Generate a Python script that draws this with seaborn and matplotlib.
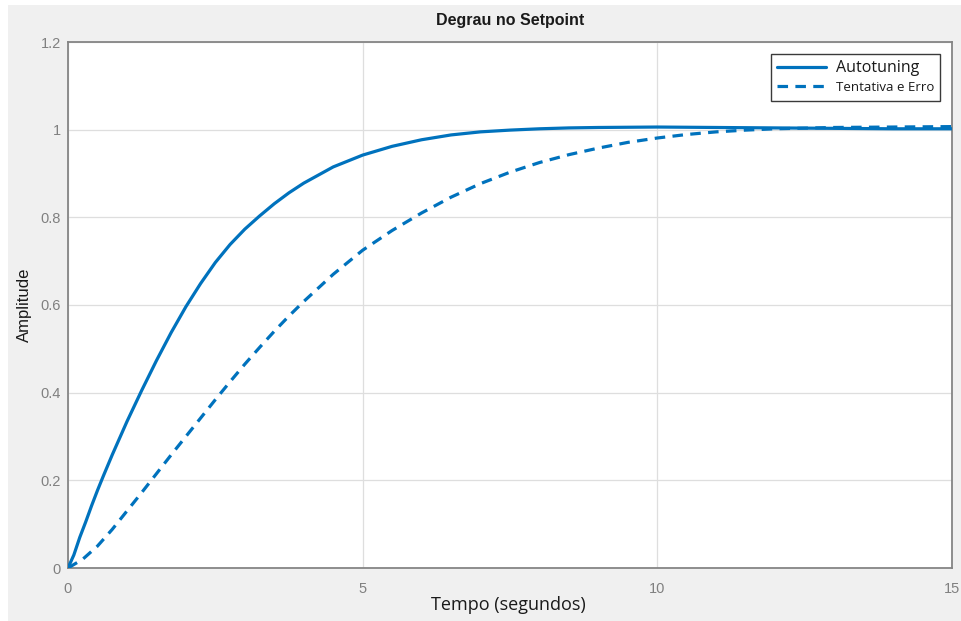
import numpy as np
import pandas as pd
import seaborn as sns
import matplotlib.pyplot as plt
from matplotlib.patches import Rectangle
from matplotlib.lines import Line2D

# Step response samples (time in seconds, amplitude)
t_auto = [0, 0.1, 0.2, 0.3, 0.4, 0.5, 0.6, 0.75, 1.0, 1.25, 1.5, 1.75, 2.0, 2.25,
          2.5, 2.75, 3.0, 3.25, 3.5, 3.75, 4.0, 4.5, 5.0, 5.5, 6.0, 6.5, 7.0, 7.5,
          8.0, 8.5, 9.0, 10.0, 11.0, 12.0, 13.0, 14.0, 15.0]
y_auto = [0, 0.03, 0.07, 0.105, 0.142, 0.177, 0.21, 0.258, 0.334, 0.405, 0.473,
          0.537, 0.596, 0.649, 0.697, 0.738, 0.773, 0.803, 0.831, 0.856, 0.878, 0.915,
          0.942, 0.962, 0.977, 0.988, 0.995, 0.999, 1.002, 1.004, 1.005, 1.006,
          1.005, 1.004, 1.003, 1.002, 1.002]

t_te = [0, 0.25, 0.5, 0.75, 1.0, 1.25, 1.5, 1.75, 2.0, 2.25, 2.5, 2.75, 3.0, 3.25,
        3.5, 3.75, 4.0, 4.5, 5.0, 5.5, 6.0, 6.5, 7.0, 7.5, 8.0, 8.5, 9.0, 9.5,
        10.0, 10.5, 11.0, 11.5, 12.0, 13.0, 14.0, 15.0]
y_te = [0, 0.02, 0.05, 0.088, 0.13, 0.172, 0.215, 0.258, 0.3, 0.342, 0.384, 0.425,
        0.465, 0.503, 0.54, 0.575, 0.608, 0.67, 0.725, 0.77, 0.81, 0.846, 0.877,
        0.903, 0.925, 0.943, 0.958, 0.971, 0.981, 0.989, 0.995, 0.999, 1.002,
        1.005, 1.006, 1.007]

series_names = ["Autotuning", "Tentativa e Erro"]
x_ticks = [0, 5, 10, 15]
y_ticks = [0, 0.2, 0.4, 0.6, 0.8, 1.0, 1.2]
y_tick_labels = ["0", "0.2", "0.4", "0.6", "0.8", "1", "1.2"]

df = pd.concat([
    pd.DataFrame({"Tempo": t_auto, "Amplitude": y_auto, "Controle": series_names[0]}),
    pd.DataFrame({"Tempo": t_te, "Amplitude": y_te, "Controle": series_names[1]}),
], ignore_index=True)

sns.set_theme(style="white")
plt.rcParams["font.family"] = ["Liberation Sans", "DejaVu Sans"]
plt.rcParams["lines.solid_joinstyle"] = "round"
plt.rcParams["lines.dash_joinstyle"] = "round"

W, H = 962, 621
fig = plt.figure(figsize=(W / 100, H / 100), dpi=100, facecolor="white")
# grey panel behind the axes
fig.patches.append(Rectangle((8 / W, 0), 1 - 8 / W, 1 - 5 / H, transform=fig.transFigure,
                             facecolor="#f0f0f0", edgecolor="none", zorder=-10))

ax = fig.add_axes([68 / W, (H - 568) / H, 884 / W, 526 / H])
ax.set_facecolor("white")

blue = "#0072BD"
sns.lineplot(data=df, x="Tempo", y="Amplitude", hue="Controle", style="Controle",
             palette={n: blue for n in series_names},
             dashes={series_names[0]: "", series_names[1]: (3.3, 2.3)},
             linewidth=2.3, legend=False, ax=ax, zorder=3)

ax.set_xlim(0, 15)
ax.set_ylim(0, 1.2)
ax.set_xticks(x_ticks)
ax.set_xticklabels([str(v) for v in x_ticks])
ax.set_yticks(y_ticks)
ax.set_yticklabels(y_tick_labels)
ax.grid(True, color="#dedede", linewidth=0.9)
ax.set_axisbelow(True)

for s in ax.spines.values():
    s.set_visible(True)
    s.set_color("#858585")
    s.set_linewidth(1.3)

ax.tick_params(axis="both", direction="in", length=5, width=1, color="#858585",
               labelcolor="#808080", labelsize=10.5)
ax.tick_params(axis="y", pad=5)
ax.tick_params(axis="x", pad=10)

ax.set_title("Degrau no Setpoint", fontsize=11.5, fontweight="bold", color="#1a1a1a", pad=12)
ax.set_xlabel("Tempo (segundos)", fontsize=13, color="#1a1a1a", family=["Open Sans", "DejaVu Sans"])
ax.set_ylabel("Amplitude", fontsize=12, color="#1a1a1a")
ax.xaxis.set_label_coords((508 - 68) / 884, (568 - 596) / 526)
ax.yaxis.set_label_coords((32 - 68) / 884, 0.5)

handles = [Line2D([], [], color=blue, lw=2.3),
           Line2D([], [], color=blue, lw=2.3, dashes=(3.3, 2.3))]
leg = ax.legend(handles, series_names, loc="upper right",
                bbox_to_anchor=(1 - 12 / 884, 1 - 12 / 526),
                frameon=True, fancybox=False, framealpha=1, edgecolor="#3a3a3a",
                handlelength=3.2, handletextpad=0.6, borderpad=0.4, labelspacing=0.3,
                borderaxespad=0)
leg.get_frame().set_linewidth(1.0)
texts = leg.get_texts()
texts[0].set_fontsize(11.5)
texts[0].set_family(["Open Sans", "DejaVu Sans"])
texts[1].set_fontsize(9.5)
texts[1].set_family(["Open Sans", "DejaVu Sans"])
for tx in texts:
    tx.set_color("#1a1a1a")

fig.savefig("out.png", dpi=100, facecolor=fig.get_facecolor())
